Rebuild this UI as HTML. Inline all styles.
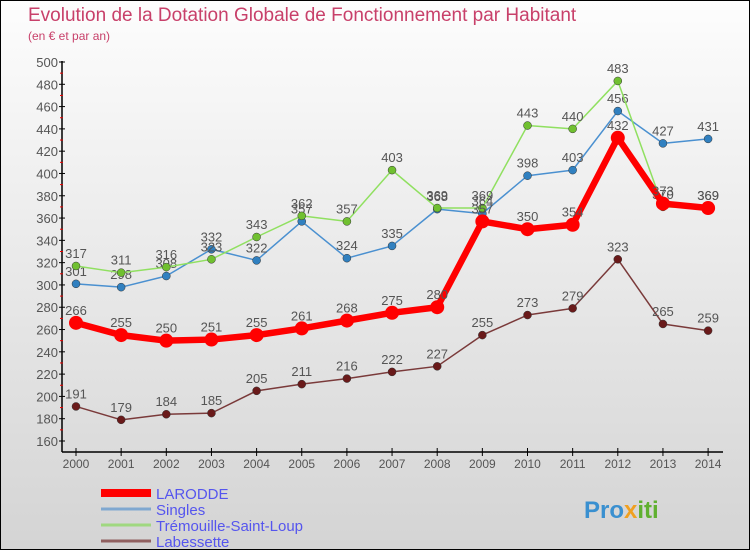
<!DOCTYPE html>
<html><head><meta charset="utf-8"><style>
body{margin:0}
#c{width:750px;height:550px;position:relative;background:linear-gradient(#fdfdfd,#d4d4d4);border:1px solid #000;box-sizing:border-box;font-family:"Liberation Sans",sans-serif;overflow:hidden}
text{font-family:"Liberation Sans",sans-serif}
</style></head><body>
<div id="c">
<svg id="s" width="750" height="550"></svg>
</div>
<script>
const years=["2000","2001","2002","2003","2004","2005","2006","2007","2008","2009","2010","2011","2012","2013","2014"];
const larodde=[266,255,250,251,255,261,268,275,280,357,350,354,432,373,369];
const singles=[301,298,308,332,322,357,324,335,368,364,398,403,456,427,431];
const tremouille=[317,311,316,323,343,362,357,403,369,369,443,440,483,370,369];
const labessette=[191,179,184,185,205,211,216,222,227,255,273,279,323,265,259];
const yTicks=[160,180,200,220,240,260,280,300,320,340,360,380,400,420,440,460,480,500];
const NS="http://www.w3.org/2000/svg";
const svg=document.getElementById('s');
function X(i){return 75+i*45.15;}
function Y(v){return 440-(v-160)*(379/340);}
function el(t,a,p){const e=document.createElementNS(NS,t);for(const k in a)e.setAttribute(k,a[k]);(p||svg).appendChild(e);return e;}
function tx(x,y,s,a,p){const e=el('text',Object.assign({x:x,y:y},a),p);e.textContent=s;return e;}
let t=tx(27,20,"Evolution de la Dotation Globale de Fonctionnement par Habitant",{fill:"#c8406a","font-size":"19"});

t=tx(27,39,"(en € et par an)",{fill:"#c8406a","font-size":"12"});

let a=el('line',{x1:61,y1:60,x2:61,y2:451,stroke:"#000","stroke-width":1.5});

a=el('line',{x1:61,y1:451,x2:722,y2:451,stroke:"#000","stroke-width":1.5});

yTicks.forEach((v,i)=>{
 el('line',{x1:58,x2:64,y1:Y(v),y2:Y(v),stroke:"#000"});
 if(i<yTicks.length-1)el('line',{x1:59,x2:62,y1:Y(v+10),y2:Y(v+10),stroke:"#e00"});
 const l=tx(57,Y(v)+5,String(v),{fill:"#555","font-size":"13","text-anchor":"end"});
 
});
years.forEach((y,i)=>{
 el('line',{x1:X(i),x2:X(i),y1:447,y2:455,stroke:"#000"});
 const l=tx(X(i),467,y,{fill:"#555","font-size":"12","text-anchor":"middle"});
 
});
function series(d,col,dot,w,r,name){
 const g=el('g',{});
 
 el('polyline',{points:d.map((v,i)=>X(i)+","+Y(v)).join(" "),fill:"none",stroke:col,"stroke-width":w,"stroke-linejoin":"round"},g);
 d.forEach((v,i)=>{
  const c=el('circle',{cx:X(i),cy:Y(v),r:r,fill:dot,stroke:w>3?col:"#333","stroke-width":w>3?0:0.5},g);
  
  const l=tx(X(i),Y(v)-8,String(v),{fill:"#555","font-size":"13","text-anchor":"middle"},g);
  
 });
}
series(labessette,"#7a3a3a","#6a1a1a",1.5,4,"labessette");
series(singles,"#4a90d0","#3080c0",1.5,4,"singles");
series(tremouille,"#90e060","#70c030",1.5,4,"tremouille");
series(larodde,"#f00","#f00",6.5,7,"larodde");
const leg=[["LARODDE","#f00",8],["Singles","#80a8d0",3],["Trémouille-Saint-Loup","#a0d880",3],["Labessette","#906060",3]];
leg.forEach((e,i)=>{
 const y=492+i*16;
 const g=el('g',{});
 el('line',{x1:100,x2:150,y1:y,y2:y,stroke:e[1],"stroke-width":e[2]},g);
 tx(155,y+6,e[0],{fill:"#5555ee","font-size":"15"},g);
});
const lg=tx(583,517,"",{"font-size":"24","font-weight":"bold"});

[["Pro","#3a90d0"],["x","#f0a020"],["iti","#60b030"]].forEach(p=>{const s=el('tspan',{fill:p[1]},lg);s.textContent=p[0];});
</script>
</body></html>
